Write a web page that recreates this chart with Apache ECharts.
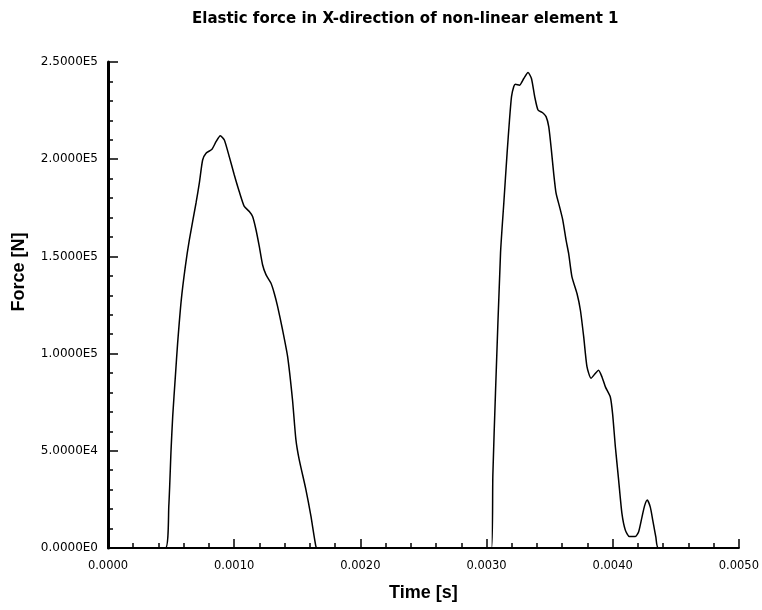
<!DOCTYPE html>
<html>
<head>
<meta charset="utf-8">
<script src="https://cdn.jsdelivr.net/npm/echarts@6/dist/echarts.min.js"></script>
<style>
  html, body { margin: 0; padding: 0; background: #fff; }
  #chart { width: 762px; height: 610px; }
</style>
</head>
<body>
<div id="chart"></div>
<script>
// time [s] and force [N]
var pulse1Time = [0.000455, 0.000482, 0.000500, 0.000513, 0.000534, 0.000552, 0.000581, 0.000613, 0.000645,
    0.000698, 0.000724, 0.000750, 0.000777, 0.000824, 0.000856, 0.000890, 0.000922, 0.000961, 0.001001,
    0.001040, 0.001080, 0.001120, 0.001146, 0.001173, 0.001199, 0.001225, 0.001252, 0.001291, 0.001317,
    0.001344, 0.001383, 0.001423, 0.001462, 0.001489, 0.001515, 0.001568, 0.001608, 0.001647, 0.001660];
var pulse1Force = [0, 21700, 50800, 67900, 88400, 105500, 127800, 144900, 158600,
    177600, 187800, 199600, 203100, 205100, 209000, 212100, 209900, 201300, 191900,
    183400, 175700, 173100, 170500, 163700, 155100, 145700, 140600, 136300, 131200,
    124300, 112400, 98700, 76400, 55900, 45600, 30200, 16500, 1000, 0];

var pulse2Time = [0.003040, 0.003050, 0.003071, 0.003111, 0.003137, 0.003163, 0.003182, 0.003198, 0.003216,
    0.003229, 0.003261, 0.003295, 0.003329, 0.003356, 0.003382, 0.003408, 0.003445, 0.003472, 0.003493,
    0.003514, 0.003532, 0.003551, 0.003578, 0.003604, 0.003630, 0.003651, 0.003677, 0.003717, 0.003744,
    0.003770, 0.003796, 0.003828, 0.003862, 0.003888, 0.003915, 0.003942, 0.003981, 0.003999, 0.004021,
    0.004047, 0.004073, 0.004100, 0.004132, 0.004179, 0.004205, 0.004232, 0.004253, 0.004274, 0.004298,
    0.004318, 0.004342, 0.004363];
var pulse2Force = [0, 37300, 79900, 151800, 177500, 203100, 220200, 232200, 237400,
    238600, 238100, 241500, 244600, 241500, 232100, 225300, 223900, 221900, 216700,
    204700, 192800, 182500, 175700, 168800, 158500, 151400, 139500, 130900, 122300,
    108700, 93300, 87300, 89800, 91400, 88000, 82900, 77700, 69100, 52100,
    34900, 17800, 9200, 5900, 5900, 8200, 15900, 21800, 24700, 21000,
    14100, 5600, 0];

var xTicks = [0, 0.001, 0.002, 0.003, 0.004, 0.005];
var yTicks = [0, 50000, 100000, 150000, 200000, 250000];

var points = [[0, 0]];
pulse1Time.forEach(function (t, i) { points.push([t, pulse1Force[i]]); });
pulse2Time.forEach(function (t, i) { points.push([t, pulse2Force[i]]); });
points.push([0.005, 0]);

function sci(v) {
    if (v === 0) return '0.0000E0';
    var e = Math.floor(Math.log10(v));
    return (v / Math.pow(10, e)).toFixed(4) + 'E' + e;
}

var font = 'Liberation Sans, Arial, Helvetica, sans-serif';
var wide = 'DejaVu Sans, Liberation Sans, sans-serif';

var option = {
    animation: false,
    backgroundColor: '#fff',
    title: {
        text: 'Elastic force in X-direction of non-linear element 1',
        left: 187,
        top: 7,
        textStyle: { fontFamily: wide, fontSize: 15, fontWeight: 'bold', color: '#000' }
    },
    grid: { left: 108, right: 22, top: 62, bottom: 62 },
    xAxis: {
        type: 'value',
        min: xTicks[0],
        max: xTicks[xTicks.length - 1],
        interval: 0.001,
        name: 'Time [s]',
        nameLocation: 'middle',
        nameGap: 36,
        nameTextStyle: { fontFamily: font, fontSize: 18, fontWeight: 'bold', color: '#000' },
        axisLine: { lineStyle: { color: '#000', width: 2 } },
        axisTick: { inside: true, length: 9, lineStyle: { color: '#000', width: 1.5 } },
        minorTick: { show: true, splitNumber: 5, length: 5, lineStyle: { color: '#000', width: 1.5 } },
        splitLine: { show: false },
        axisLabel: {
            margin: 12,
            fontFamily: wide, fontSize: 11.5, color: '#000',
            formatter: function (v) { return v.toFixed(4); }
        }
    },
    yAxis: {
        type: 'value',
        min: yTicks[0],
        max: yTicks[yTicks.length - 1],
        interval: 50000,
        name: 'Force [N]',
        nameLocation: 'middle',
        nameGap: 80,
        nameTextStyle: { fontFamily: font, fontSize: 18, fontWeight: 'bold', color: '#000', padding: [0, 0, 0, 66] },
        axisLine: { show: true, lineStyle: { color: '#000', width: 3 } },
        axisTick: { show: true, inside: true, length: 10, lineStyle: { color: '#000', width: 1.5 } },
        minorTick: { show: true, splitNumber: 5, length: 5, lineStyle: { color: '#000', width: 1.5 } },
        splitLine: { show: false },
        axisLabel: {
            margin: 10,
            fontFamily: wide, fontSize: 12, color: '#000',
            formatter: sci
        }
    },
    series: [{
        type: 'line',
        data: points,
        smooth: 0.2,
        showSymbol: false,
        lineStyle: { color: '#000', width: 1.5 }
    }]
};

var chart = echarts.init(document.getElementById('chart'));
chart.setOption(option);
</script>
</body>
</html>
